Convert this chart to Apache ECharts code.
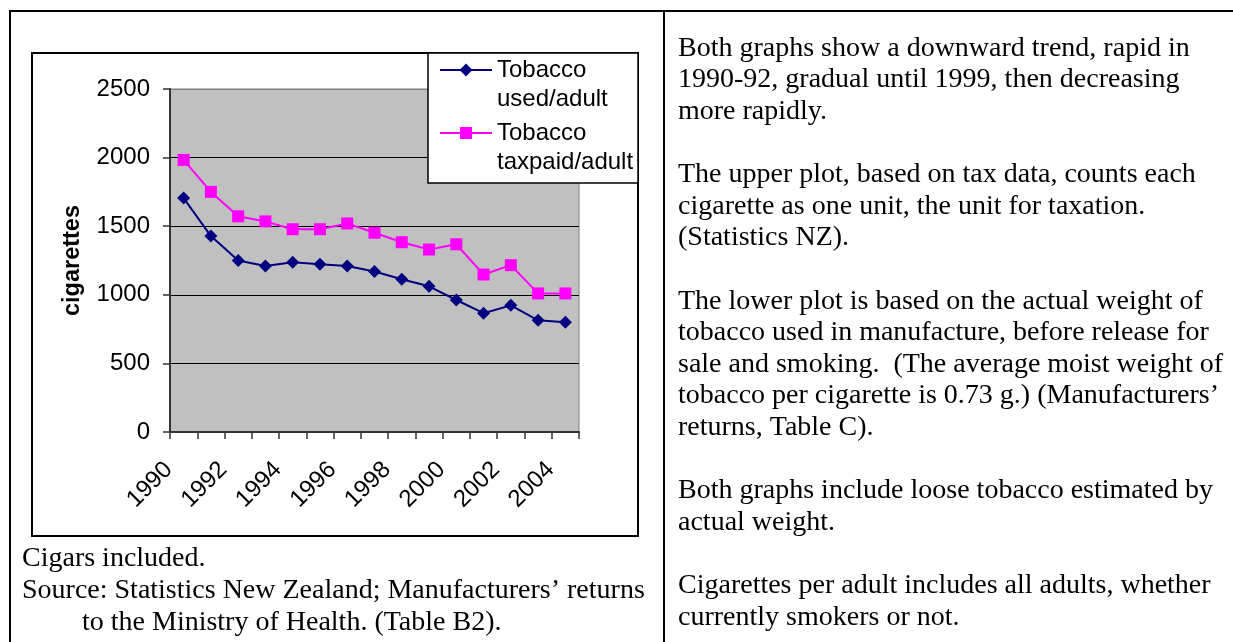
<!DOCTYPE html>
<html>
<head>
<meta charset="utf-8">
<script src="https://cdn.jsdelivr.net/npm/echarts@6/dist/echarts.min.js"></script>
<style>
html,body{margin:0;padding:0;background:#fff;}
#c{width:1233px;height:642px;}
</style>
</head>
<body>
<div id="c"></div>
<script>
// ---- data ----
const years = ['1990','1991','1992','1993','1994','1995','1996','1997','1998','1999','2000','2001','2002','2003','2004'];
const usedPerAdult = [1705, 1428, 1250, 1210, 1237, 1222, 1210, 1170, 1113, 1062, 962, 866, 923, 814, 800];
const taxpaidPerAdult = [1983, 1750, 1572, 1535, 1478, 1478, 1520, 1452, 1383, 1330, 1368, 1148, 1216, 1010, 1010];
const yTickValues = [0, 500, 1000, 1500, 2000, 2500];
const seriesNames = ['Tobacco used/adult', 'Tobacco taxpaid/adult'];
const legendLabels = ['Tobacco\nused/adult', 'Tobacco\ntaxpaid/adult'];
const yAxisTitle = 'cigarettes';
const notesRight = [
  'Both graphs show a downward trend, rapid in',
  '1990-92, gradual until 1999, then decreasing',
  'more rapidly.',
  '',
  'The upper plot, based on tax data, counts each',
  'cigarette as one unit, the unit for taxation.',
  '(Statistics NZ).',
  '',
  'The lower plot is based on the actual weight of',
  'tobacco used in manufacture, before release for',
  'sale and smoking.  (The average moist weight of',
  'tobacco per cigarette is 0.73 g.) (Manufacturers\u2019',
  'returns, Table C).',
  '',
  'Both graphs include loose tobacco estimated by',
  'actual weight.',
  '',
  'Cigarettes per adult includes all adults, whether',
  'currently smokers or not.'
];
const noteCigars = 'Cigars included.';
const noteSource1 = 'Source: Statistics New Zealand; Manufacturers\u2019 returns';
const noteSource2 = 'to the Ministry of Health. (Table B2).';

// ---- chart ----
const SANS = '"Liberation Sans", Arial, sans-serif';
const SERIF = '"Liberation Serif", "Times New Roman", serif';
const chart = echarts.init(document.getElementById('c'), null, {renderer: 'canvas'});

const legendCommon = {
  orient: 'vertical',
  itemWidth: 52,
  padding: 0,
  selectedMode: false,
  z: 10,
  // a blank first line keeps the icon level with the first text line
  formatter: function (name) { return ' \n' + legendLabels[seriesNames.indexOf(name)]; },
  textStyle: {fontFamily: SANS, fontSize: 24, color: '#000', lineHeight: 29}
};

const option = {
  animation: false,
  backgroundColor: '#fff',
  grid: {
    left: 170, right: 654, top: 89, bottom: 210,
    show: true, backgroundColor: '#C0C0C0', borderColor: '#808080', borderWidth: 1,
    containLabel: false
  },
  legend: [
    Object.assign({}, legendCommon, {data: [seriesNames[0]], left: 439, top: 26.5, itemHeight: 16}),
    Object.assign({}, legendCommon, {data: [seriesNames[1]], left: 439, top: 89.5, itemHeight: 15})
  ],
  xAxis: {
    type: 'category',
    data: years,
    boundaryGap: true,
    axisLine: {show: true, lineStyle: {color: '#333', width: 2}},
    axisTick: {show: true, interval: 0, length: 7, lineStyle: {color: '#333', width: 1.5}},
    axisLabel: {
      interval: 1, rotate: 45, margin: 19, padding: [0, 21, 0, 0],
      fontFamily: SANS, fontSize: 24, color: '#000'
    },
    splitLine: {show: false}
  },
  yAxis: {
    type: 'value',
    min: yTickValues[0], max: yTickValues[yTickValues.length - 1], interval: 500,
    name: yAxisTitle, nameLocation: 'middle', nameGap: 85, nameRotate: 90,
    nameTextStyle: {fontFamily: SANS, fontSize: 23.5, fontWeight: 'bold', color: '#000'},
    axisLine: {show: true, lineStyle: {color: '#333', width: 2}},
    axisTick: {show: true, length: 7, lineStyle: {color: '#333', width: 1.5}},
    axisLabel: {margin: 20, fontFamily: SANS, fontSize: 24, color: '#000',
      formatter: function (v) { return String(v); }},
    splitLine: {show: true, lineStyle: {color: ['#000', '#000', '#000', '#000', '#000', '#808080'], width: 1}}
  },
  series: [
    {
      name: seriesNames[0], type: 'line', data: usedPerAdult,
      symbol: 'diamond', symbolSize: 13,
      lineStyle: {color: '#000080', width: 2},
      itemStyle: {color: '#000080'},
      z: 3
    },
    {
      name: seriesNames[1], type: 'line', data: taxpaidPerAdult,
      symbol: 'rect', symbolSize: 12,
      lineStyle: {color: '#FF00FF', width: 2},
      itemStyle: {color: '#FF00FF'},
      z: 3
    }
  ],
  graphic: [
    // table borders
    {type: 'line', shape: {x1: 9, y1: 11, x2: 1233, y2: 11}, style: {stroke: '#000', lineWidth: 2}, z: 1},
    {type: 'line', shape: {x1: 10, y1: 10, x2: 10, y2: 642}, style: {stroke: '#000', lineWidth: 2}, z: 1},
    {type: 'line', shape: {x1: 664, y1: 10, x2: 664, y2: 642}, style: {stroke: '#000', lineWidth: 2}, z: 1},
    // chart frame
    {type: 'rect', shape: {x: 32, y: 53, width: 606, height: 483}, style: {fill: 'none', stroke: '#000', lineWidth: 2}, z: 1},
    // legend frame
    {type: 'rect', shape: {x: 428, y: 53, width: 210, height: 130}, style: {fill: '#fff', stroke: '#000', lineWidth: 1.5}, z: 8},
    // notes right column
    {type: 'text', x: 678, y: 32.7, z: 1,
      style: {text: notesRight.join('\n'), fontFamily: SERIF, fontSize: 28, lineHeight: 31.6, fill: '#000', align: 'left', verticalAlign: 'top'}},
    // notes under chart
    {type: 'text', x: 22, y: 559, z: 1,
      style: {text: noteCigars, fontFamily: SERIF, fontSize: 28, fill: '#000', align: 'left', verticalAlign: 'middle'}},
    {type: 'text', x: 22, y: 591, z: 1,
      style: {text: noteSource1, fontFamily: SERIF, fontSize: 28, fill: '#000', align: 'left', verticalAlign: 'middle'}},
    {type: 'text', x: 82, y: 622.5, z: 1,
      style: {text: noteSource2, fontFamily: SERIF, fontSize: 28, fill: '#000', align: 'left', verticalAlign: 'middle'}}
  ]
};
chart.setOption(option);
</script>
</body>
</html>
